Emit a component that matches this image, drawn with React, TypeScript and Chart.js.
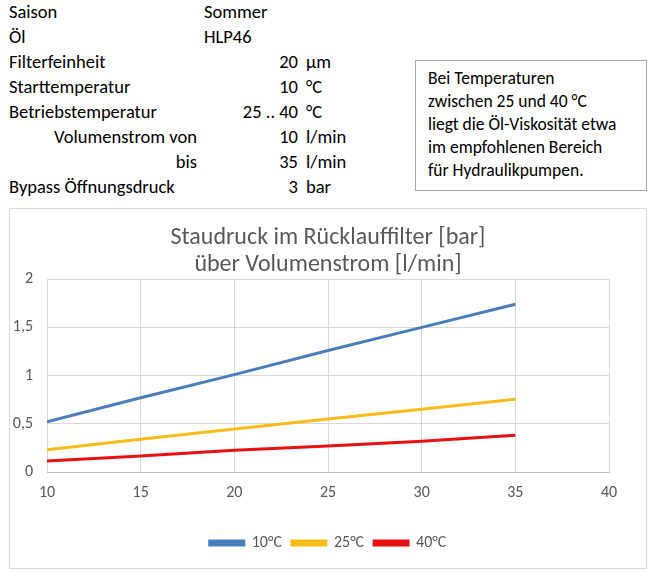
import React, { useEffect, useRef } from "react";
import { Chart, registerables } from "chart.js";

Chart.register(...registerables);

const FONT = "Carlito, Lato, 'Open Sans', sans-serif";

const flowX = [10, 15, 20, 25, 30, 35];
const series10 = [0.52, 0.77, 1.01, 1.26, 1.5, 1.74];
const series25 = [0.23, 0.34, 0.445, 0.55, 0.65, 0.755];
const series40 = [0.115, 0.165, 0.225, 0.27, 0.32, 0.38];
const seriesNames = ["10°C", "25°C", "40°C"];
const seriesColors = ["#4a7ebb", "#f8bc16", "#e81010"];
const titleLines = ["Staudruck im Rücklauffilter [bar]", "über Volumenstrom [l/min]"];

const infoRows: [string, string, string, string, number][] = [
  ["Saison", "Sommer", "", "", 0],
  ["Öl", "HLP46", "", "", 0],
  ["Filterfeinheit", "", "20", "µm", 0],
  ["Starttemperatur", "", "10", "°C", 0],
  ["Betriebstemperatur", "", "25 .. 40", "°C", 0],
  ["Volumenstrom von", "", "10", "l/min", 1],
  ["bis", "", "35", "l/min", 2],
  ["Bypass Öffnungsdruck", "", "3", "bar", 0],
];

const noteLines = [
  "Bei Temperaturen",
  "zwischen 25 und 40 °C",
  "liegt die Öl-Viskosität etwa",
  "im empfohlenen Bereich",
  "für Hydraulikpumpen.",
];

function ChartBox() {
  const ref = useRef<HTMLCanvasElement>(null);
  useEffect(() => {
    if (!ref.current) return;
    const all = [series10, series25, series40];
    const chart = new Chart(ref.current, {
      type: "scatter",
      data: {
        datasets: all.map((s, i) => ({
          label: seriesNames[i],
          data: s.map((v, j) => ({ x: flowX[j], y: v })),
          showLine: true,
          borderColor: seriesColors[i],
          backgroundColor: seriesColors[i],
          borderWidth: 3,
          pointRadius: 0,
          tension: 0,
        })),
      },
      options: {
        responsive: false,
        animation: false,
        layout: { padding: { left: 0, right: 0, top: 10, bottom: 7 } },
        plugins: {
          title: {
            display: true,
            text: titleLines,
            color: "#595959",
            font: { family: FONT, size: 24, weight: "normal", lineHeight: 1.15 },
            padding: { top: 5, bottom: 0 },
          },
          legend: {
            position: "bottom",
            labels: {
              color: "#595959",
              font: { family: FONT, size: 16 },
              boxWidth: 34,
              boxHeight: 4,
              padding: 10,
            },
          },
          tooltip: { enabled: false },
        },
        scales: {
          x: {
            type: "linear",
            min: 10,
            max: 40,
            ticks: { stepSize: 5, color: "#595959", font: { family: FONT, size: 16 }, padding: 11 },
            grid: { color: "#d9d9d9", drawTicks: false },
            border: { color: "#bfbfbf" },
            afterFit: (s: any) => { s.height = 53; },
          },
          y: {
            min: 0,
            max: 2,
            ticks: {
              stepSize: 0.5,
              color: "#595959",
              font: { family: FONT, size: 16 },
              padding: 14,
              callback: (v: any) => String(v).replace(".", ","),
            },
            grid: { color: "#d9d9d9", drawTicks: false },
            border: { display: false },
            afterFit: (s: any) => { s.width = 37; },
          },
          yRight: {
            position: "right",
            min: 0,
            max: 2,
            ticks: { display: false },
            grid: { display: false, drawTicks: false },
            border: { display: false },
            afterFit: (s: any) => { s.width = 37; },
          },
        },
      },
    });
    return () => chart.destroy();
  }, []);
  return <canvas ref={ref} width={636} height={359} style={{ display: "block" }} />;
}

export default function App() {
  const cell: React.CSSProperties = { position: "absolute", whiteSpace: "nowrap", lineHeight: "24px" };
  return (
    <div style={{ position: "fixed", left: 0, top: 0, width: 660, height: 577, background: "#fff", fontFamily: FONT, fontSize: 18.5, color: "#000", overflow: "hidden" }}>
      {infoRows.map((r, i) => {
        const top = 0 + i * 25;
        return (
          <React.Fragment key={i}>
            {r[4] === 0 && <div style={{ ...cell, left: 9, top }}>{r[0]}</div>}
            {r[4] !== 0 && <div style={{ ...cell, right: 660 - 197, top }}>{r[0]}</div>}
            {r[1] && <div style={{ ...cell, left: 204, top }}>{r[1]}</div>}
            {r[2] && <div style={{ ...cell, right: 660 - 298, top }}>{r[2]}</div>}
            {r[3] && <div style={{ ...cell, left: 306, top }}>{r[3]}</div>}
          </React.Fragment>
        );
      })}
      <div style={{ position: "absolute", left: 415, top: 60, width: 232, height: 131, boxSizing: "border-box", border: "1px solid #a6a6a6", padding: "6px 0 0 12px", fontSize: 17.5, lineHeight: "23px" }}>
        {noteLines.map((l, i) => <div key={i} style={{ whiteSpace: "nowrap" }}>{l}</div>)}
      </div>
      <div style={{ position: "absolute", left: 9, top: 208, width: 638, height: 361, boxSizing: "border-box", border: "1px solid #d9d9d9" }}>
        <ChartBox />
      </div>
    </div>
  );
}
